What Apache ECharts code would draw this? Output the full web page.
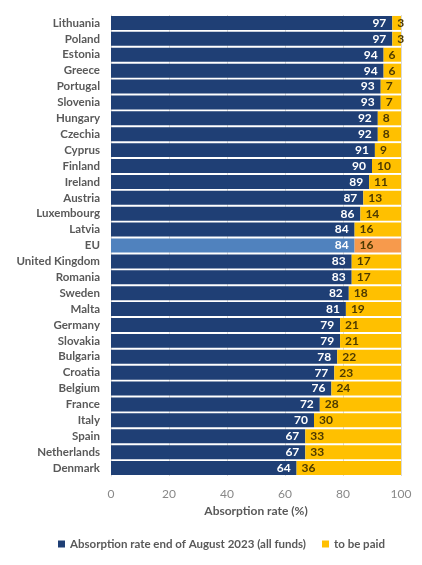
<!DOCTYPE html>
<html style="height: 100%">
<head>
    <meta charset="utf-8">
    <title>Absorption rate</title>
</head>
<body style="height: 100%; margin: 0; background: #fff">
<div id="container" style="width: 422px; height: 565px"></div>
<script type="text/javascript" src="https://cdn.jsdelivr.net/npm/echarts@6/dist/echarts.min.js"></script>
<script type="text/javascript">
    var countries = ['Lithuania', 'Poland', 'Estonia', 'Greece', 'Portugal', 'Slovenia', 'Hungary', 'Czechia',
        'Cyprus', 'Finland', 'Ireland', 'Austria', 'Luxembourg', 'Latvia', 'EU', 'United Kingdom', 'Romania',
        'Sweden', 'Malta', 'Germany', 'Slovakia', 'Bulgaria', 'Croatia', 'Belgium', 'France', 'Italy', 'Spain',
        'Netherlands', 'Denmark'];
    var absorbed = [97, 97, 94, 94, 93, 93, 92, 92, 91, 90, 89, 87, 86, 84, 84, 83, 83, 82, 81, 79, 79, 78, 77, 76, 72, 70, 67, 67, 64];
    var toBePaid = [3, 3, 6, 6, 7, 7, 8, 8, 9, 10, 11, 13, 14, 16, 16, 17, 17, 18, 19, 21, 21, 22, 23, 24, 28, 30, 33, 33, 36];
    var xTicks = [0, 20, 40, 60, 80, 100];

    var navy = '#1f3f75', yellow = '#ffc000', euBlue = '#5082be', euOrange = '#f79a4c';
    var font = 'Lato, "Open Sans", sans-serif';

    var myChart = echarts.init(document.getElementById('container'));
    var option = {
        animation: false,
        textStyle: {fontFamily: font},
        grid: {left: 111, right: 21, top: 15, bottom: 89},
        legend: {
            bottom: 10,
            left: 53,
            icon: 'rect',
            itemWidth: 7,
            itemHeight: 7,
            itemGap: 16,
            textStyle: {color: '#595959', fontWeight: 'bold', fontSize: 11.5, fontFamily: font},
            data: [
                {name: 'Absorption rate end of August 2023 (all funds)', itemStyle: {color: navy}},
                {name: 'to be paid', itemStyle: {color: yellow}}
            ]
        },
        xAxis: {
            type: 'value',
            min: xTicks[0],
            max: xTicks[xTicks.length - 1],
            interval: 20,
            name: 'Absorption rate (%)',
            nameLocation: 'middle',
            nameGap: 29,
            nameTextStyle: {color: '#595959', fontWeight: 'bold', fontSize: 12},
            axisLabel: {color: '#888', fontSize: 12, margin: 12},
            axisLine: {show: false},
            axisTick: {show: false},
            splitLine: {lineStyle: {color: '#d9d9d9', width: 1}}
        },
        yAxis: {
            type: 'category',
            inverse: true,
            data: countries,
            axisLabel: {color: '#595959', fontWeight: 'bold', fontSize: 11.5, margin: 11},
            axisLine: {show: true, lineStyle: {color: '#d9d9d9'}},
            axisTick: {show: false}
        },
        series: [
            {
                name: 'Absorption rate end of August 2023 (all funds)',
                type: 'bar',
                stack: 'total',
                barCategoryGap: '12%',
                itemStyle: {color: navy},
                label: {
                    show: true, position: 'insideRight', color: '#fff',
                    fontWeight: 'bold', fontSize: 12, distance: 6
                },
                data: absorbed.map(function (v, i) {
                    return countries[i] === 'EU' ? {value: v, itemStyle: {color: euBlue}} : v;
                })
            },
            {
                name: 'to be paid',
                type: 'bar',
                stack: 'total',
                itemStyle: {color: yellow},
                label: {
                    show: true, position: 'insideLeft', color: '#4d3a00',
                    fontWeight: 'bold', fontSize: 12, distance: 5
                },
                data: toBePaid.map(function (v, i) {
                    return countries[i] === 'EU' ? {value: v, itemStyle: {color: euOrange}} : v;
                })
            }
        ]
    };
    myChart.setOption(option, true);
</script>
</body>
</html>
